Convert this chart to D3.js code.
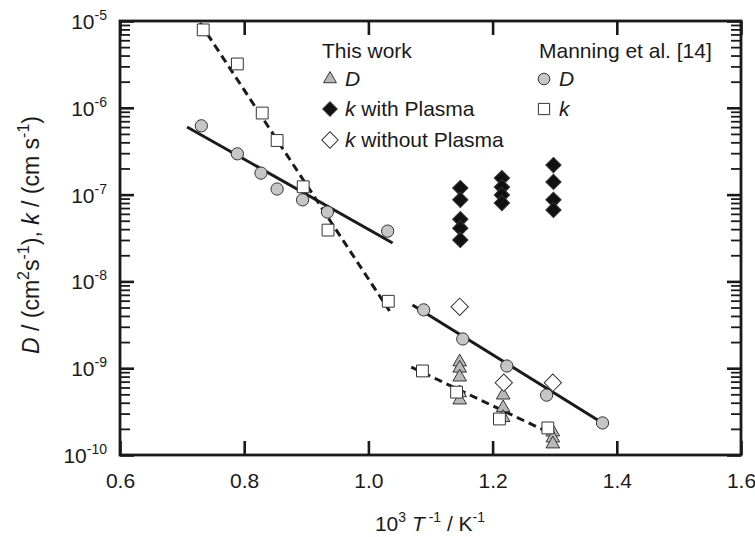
<!DOCTYPE html>
<html>
<head>
<meta charset="utf-8">
<script src="https://cdn.jsdelivr.net/npm/d3@7"></script>
<style>
  body { margin: 0; background: #fff; }
  svg text { font-family: "Liberation Sans", Arial, sans-serif; fill: #1a1a1a; }
</style>
</head>
<body>
<svg id="chart" width="755" height="537"></svg>
<script>
// Manning et al. [14] -- D (circles) and k (squares), high-T and low-T branches
var manDHiX = [0.731, 0.789, 0.827, 0.853, 0.894, 0.934, 1.031];
var manDHi  = [6.2e-7, 2.95e-7, 1.77e-7, 1.16e-7, 8.7e-8, 6.3e-8, 3.8e-8];
var manDLoX = [1.089, 1.152, 1.223, 1.287, 1.377];
var manDLo  = [4.7e-9, 2.17e-9, 1.06e-9, 4.9e-10, 2.34e-10];
var manKHiX = [0.734, 0.789, 0.829, 0.853, 0.895, 0.935, 1.032];
var manKHi  = [7.9e-6, 3.2e-6, 8.7e-7, 4.2e-7, 1.23e-7, 3.9e-8, 5.9e-9];
var manKLoX = [1.087, 1.142, 1.211, 1.289];
var manKLo  = [9.3e-10, 5.3e-10, 2.6e-10, 2.05e-10];

// This work
var twDX = [1.147, 1.147, 1.147, 1.147, 1.147, 1.217, 1.217, 1.217, 1.297, 1.297, 1.297];
var twD  = [1.18e-9, 1.0e-9, 7.9e-10, 5.2e-10, 4.3e-10, 4.9e-10, 3.5e-10, 2.7e-10, 1.84e-10, 1.57e-10, 1.34e-10];
var kPlasmaX = [1.148, 1.148, 1.148, 1.148, 1.148, 1.215, 1.215, 1.215, 1.215, 1.298, 1.298, 1.298, 1.298];
var kPlasma  = [1.19e-7, 8.7e-8, 5.2e-8, 4.1e-8, 3.0e-8, 1.55e-7, 1.22e-7, 9.9e-8, 8.0e-8, 2.19e-7, 1.40e-7, 8.7e-8, 6.65e-8];
var kNoPlasmaX = [1.147, 1.218, 1.297];
var kNoPlasma  = [5.1e-9, 6.8e-10, 6.8e-10];

// fitted Arrhenius lines (end points)
var fitDHiX = [0.708, 1.039], fitDHi = [6.01e-7, 2.77e-8];
var fitKHiX = [0.729, 1.034], fitKHi = [9.48e-6, 4.56e-9];
var fitDLoX = [1.071, 1.377], fitDLo = [5.35e-9, 2.34e-10];
var fitKLoX = [1.069, 1.289], fitKLo = [1.03e-9, 1.84e-10];

var xTicks = [0.6, 0.8, 1.0, 1.2, 1.4, 1.6];
var yExps = [-10, -9, -8, -7, -6, -5];

var svg = d3.select('#chart');
var pLeft = 120, pRight = 741, pTop = 21, pBottom = 455;

var x = d3.scaleLinear().domain([0.6, 1.6]).range([pLeft, pRight]);
var y = d3.scaleLog().domain([1e-10, 1e-5]).range([pBottom, pTop]);

var majorY = yExps.map(function (e) { return Math.pow(10, e); });
var minorY = [];
yExps.slice(0, -1).forEach(function (e) {
  for (var m = 2; m <= 9; m++) minorY.push(m * Math.pow(10, e));
});

function styleAxis(g, w) {
  g.select('.domain').remove();
  g.selectAll('line').attr('stroke', '#1a1a1a').attr('stroke-width', w);
}

// bottom axis
var gx = svg.append('g')
  .attr('transform', `translate(0,${pBottom})`)
  .call(d3.axisBottom(x).tickValues(xTicks).tickSize(-14).tickSizeOuter(0).tickPadding(18)
    .tickFormat(d3.format('.1f')));
styleAxis(gx, 2.6);
gx.selectAll('text').attr('font-size', 21).attr('dy', '0.71em');

// top axis
var gt = svg.append('g')
  .attr('transform', `translate(0,${pTop})`)
  .call(d3.axisTop(x).tickValues(xTicks).tickSize(-14).tickSizeOuter(0).tickFormat(''));
styleAxis(gt, 2.6);

// left axis, major + minor
var gy = svg.append('g')
  .attr('transform', `translate(${pLeft},0)`)
  .call(d3.axisLeft(y).tickValues(majorY).tickSize(-14).tickSizeOuter(0).tickPadding(13)
    .tickFormat(''));
styleAxis(gy, 2.6);
gy.selectAll('.tick text')
  .attr('font-size', 21)
  .attr('dy', '0.36em')
  .each(function (d) {
    var t = d3.select(this);
    t.append('tspan').text('10');
    t.append('tspan').attr('font-size', 14).attr('dy', -9).text(Math.round(Math.log10(d)));
  });

var gym = svg.append('g')
  .attr('transform', `translate(${pLeft},0)`)
  .call(d3.axisLeft(y).tickValues(minorY).tickSize(-10).tickSizeOuter(0).tickFormat(''));
styleAxis(gym, 1.8);

// right axis, major + minor
var gr = svg.append('g')
  .attr('transform', `translate(${pRight},0)`)
  .call(d3.axisRight(y).tickValues(majorY).tickSize(-14).tickSizeOuter(0).tickFormat(''));
styleAxis(gr, 2.6);
var grm = svg.append('g')
  .attr('transform', `translate(${pRight},0)`)
  .call(d3.axisRight(y).tickValues(minorY).tickSize(-10).tickSizeOuter(0).tickFormat(''));
styleAxis(grm, 1.8);

// frame
svg.append('rect')
  .attr('x', pLeft).attr('y', pTop)
  .attr('width', pRight - pLeft).attr('height', pBottom - pTop)
  .attr('fill', 'none').attr('stroke', '#1a1a1a').attr('stroke-width', 2.8);

// fit lines
var line = d3.line().x(function (d) { return x(d[0]); }).y(function (d) { return y(d[1]); });
function fit(xs, ys, dashed) {
  svg.append('path')
    .datum(d3.zip(xs, ys))
    .attr('d', line)
    .attr('fill', 'none')
    .attr('stroke', '#1a1a1a')
    .attr('stroke-width', 3)
    .attr('stroke-dasharray', dashed ? '8,5' : null);
}
fit(fitDHiX, fitDHi, false);
fit(fitDLoX, fitDLo, false);
fit(fitKHiX, fitKHi, true);
fit(fitKLoX, fitKLo, true);

// markers
var sym = {
  tri: { type: d3.symbolTriangle, size: 80, fill: '#b9b9b9', rot: 0 },
  sq: { type: d3.symbolSquare, size: 140, fill: '#fff', rot: 0 },
  circ: { type: d3.symbolCircle, size: 118, fill: '#c6c6c6', rot: 0 },
  dOpen: { type: d3.symbolSquare, size: 150, fill: '#fff', rot: 45 },
  dFill: { type: d3.symbolSquare, size: 118, fill: '#111', rot: 45 }
};
function marks(xs, ys, s) {
  svg.append('g').selectAll('path')
    .data(d3.zip(xs, ys))
    .enter()
    .append('path')
    .attr('d', d3.symbol().type(s.type).size(s.size))
    .attr('transform', (d) => `translate(${x(d[0])},${y(d[1])})rotate(${s.rot})`)
    .attr('fill', s.fill)
    .attr('stroke', '#333')
    .attr('stroke-width', 1);
}
marks(twDX, twD, sym.tri);
marks(manKHiX, manKHi, sym.sq);
marks(manKLoX, manKLo, sym.sq);
marks(manDHiX, manDHi, sym.circ);
marks(manDLoX, manDLo, sym.circ);
marks(kNoPlasmaX, kNoPlasma, sym.dOpen);
marks(kPlasmaX, kPlasma, sym.dFill);

// legend
function legendItem(gx0, gy0, s, parts) {
  svg.append('path')
    .attr('d', d3.symbol().type(s.type).size(s.size * 0.9))
    .attr('transform', `translate(${gx0},${gy0 - 7})rotate(${s.rot})`)
    .attr('fill', s.fill).attr('stroke', '#333').attr('stroke-width', 1);
  var t = svg.append('text').attr('x', gx0 + 15).attr('y', gy0).attr('font-size', 21);
  parts.forEach(function (p) {
    t.append('tspan').attr('font-style', p[1] ? 'italic' : null).text(p[0]);
  });
}
svg.append('text').attr('x', 322).attr('y', 58).attr('font-size', 21).text('This work');
legendItem(330, 86, sym.tri, [['D', true]]);
legendItem(330, 116, sym.dFill, [['k', true], [' with Plasma', false]]);
legendItem(330, 147, sym.dOpen, [['k', true], [' without Plasma', false]]);

svg.append('text').attr('x', 539).attr('y', 58).attr('font-size', 21).text('Manning et al. [14]');
legendItem(544, 86, sym.circ, [['D', true]]);
legendItem(544, 116, sym.sq, [['k', true]]);

// x axis title
var xt = svg.append('text').attr('x', 430).attr('y', 531).attr('font-size', 21).attr('text-anchor', 'middle');
xt.append('tspan').text('10');
xt.append('tspan').attr('font-size', 14).attr('dy', -9).text('3');
xt.append('tspan').attr('dy', 9).text(' ');
xt.append('tspan').attr('font-style', 'italic').text('T');
xt.append('tspan').attr('font-size', 14).attr('dy', -9).text(' -1');
xt.append('tspan').attr('dy', 9).text(' / K');
xt.append('tspan').attr('font-size', 14).attr('dy', -9).text('-1');

// y axis title
var yt = svg.append('text')
  .attr('transform', 'translate(39,235)rotate(-90)')
  .attr('font-size', 23).attr('text-anchor', 'middle');
yt.append('tspan').attr('font-style', 'italic').text('D');
yt.append('tspan').text(' / (cm');
yt.append('tspan').attr('font-size', 16).attr('dy', -10).text('2');
yt.append('tspan').attr('dy', 10).text('s');
yt.append('tspan').attr('font-size', 16).attr('dy', -10).text('-1');
yt.append('tspan').attr('dy', 10).text('), ');
yt.append('tspan').attr('font-style', 'italic').text('k');
yt.append('tspan').text(' / (cm s');
yt.append('tspan').attr('font-size', 16).attr('dy', -10).text('-1');
yt.append('tspan').attr('dy', 10).text(')');
</script>
</body>
</html>
